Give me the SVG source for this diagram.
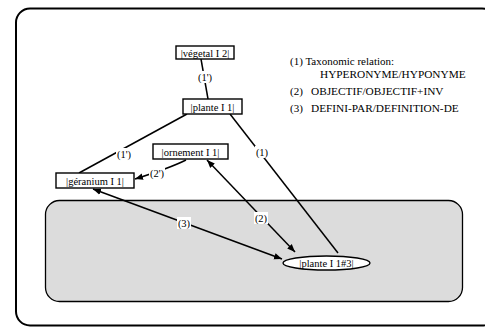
<svg xmlns="http://www.w3.org/2000/svg" width="485" height="331" viewBox="0 0 485 331">
<defs>
<marker id="ah" viewBox="0 0 10 10" refX="10" refY="5" markerWidth="8" markerHeight="8" markerUnits="userSpaceOnUse" orient="auto-start-reverse">
<path d="M0,1 L10,5 L0,9 z" fill="#000"/>
</marker>
<style>
text{font-family:"Liberation Serif","Times New Roman",serif;fill:#000}
.n{font-size:10.5px}
.lg{font-size:11px}
.lu{font-size:11.3px}
.box{fill:#fff;stroke:#000;stroke-width:1.4}
.c{fill:none;stroke:#000;stroke-width:1.5}
.lbl{fill:#fff}
</style>
</defs>
<rect x="16" y="8.5" width="480" height="317" rx="14" fill="#fff" stroke="#000" stroke-width="2"/>
<rect x="45.5" y="200.5" width="417" height="101" rx="14" fill="#dcdcdc" stroke="#000" stroke-width="1.3"/>
<g id="connectors">
<line class="c" x1="201" y1="59" x2="208" y2="99"/>
<line class="c" x1="187" y1="114" x2="79" y2="173"/>
<line class="c" x1="230" y1="114" x2="338" y2="253"/>
<path class="c" d="M186,160 Q170,168 135,179" marker-end="url(#ah)"/>
<line class="c" x1="207" y1="160" x2="295" y2="252" marker-start="url(#ah)" marker-end="url(#ah)"/>
<line class="c" x1="93" y1="189" x2="282" y2="259" marker-start="url(#ah)" marker-end="url(#ah)"/>
<rect class="lbl" x="197" y="71" width="16" height="12"/>
<text class="n" x="205" y="81" text-anchor="middle">(1')</text>
<rect class="lbl" x="116" y="148" width="16" height="12"/>
<text class="n" x="124" y="158" text-anchor="middle">(1')</text>
<rect class="lbl" x="255" y="146" width="14" height="12"/>
<text class="n" x="262" y="156" text-anchor="middle">(1)</text>
<rect class="lbl" x="149" y="167" width="16" height="12"/>
<text class="n" x="157" y="177" text-anchor="middle">(2')</text>
<rect class="lbl" x="254" y="212" width="14" height="12"/>
<text class="n" x="261" y="222" text-anchor="middle">(2)</text>
<rect class="lbl" x="177" y="217" width="14" height="12"/>
<text class="n" x="184" y="227" text-anchor="middle">(3)</text>
</g>
<g id="vegetal">
<rect class="box" x="176" y="46" width="58" height="13"/>
<text class="n" x="205" y="56.5" text-anchor="middle">|végetal I 2|</text>
</g>
<g id="plante">
<rect class="box" x="183" y="99" width="59" height="15"/>
<text class="n" x="212.5" y="110.5" text-anchor="middle">|plante I 1|</text>
</g>
<g id="ornement">
<rect class="box" x="153" y="144" width="75" height="15"/>
<text class="n" x="190.5" y="155.5" text-anchor="middle">|ornement I 1|</text>
</g>
<g id="geranium">
<rect class="box" x="56" y="173" width="78" height="15"/>
<text class="n" x="95" y="184.5" text-anchor="middle">|géranium I 1|</text>
</g>
<g id="plante3">
<ellipse class="box" cx="326.5" cy="263" rx="43.5" ry="7"/>
<text class="n" x="326.5" y="267" text-anchor="middle">|plante I 1#3|</text>
</g>
<g id="legend">
<text class="lg" x="290" y="65">(1) Taxonomic relation:</text>
<text class="lu" x="320" y="78">HYPERONYME/HYPONYME</text>
<text class="lg" x="290" y="95">(2)<tspan class="lu" x="311">OBJECTIF/OBJECTIF+INV</tspan></text>
<text class="lg" x="290" y="112">(3)<tspan class="lu" x="311">DEFINI-PAR/DEFINITION-DE</tspan></text>
</g>
</svg>
